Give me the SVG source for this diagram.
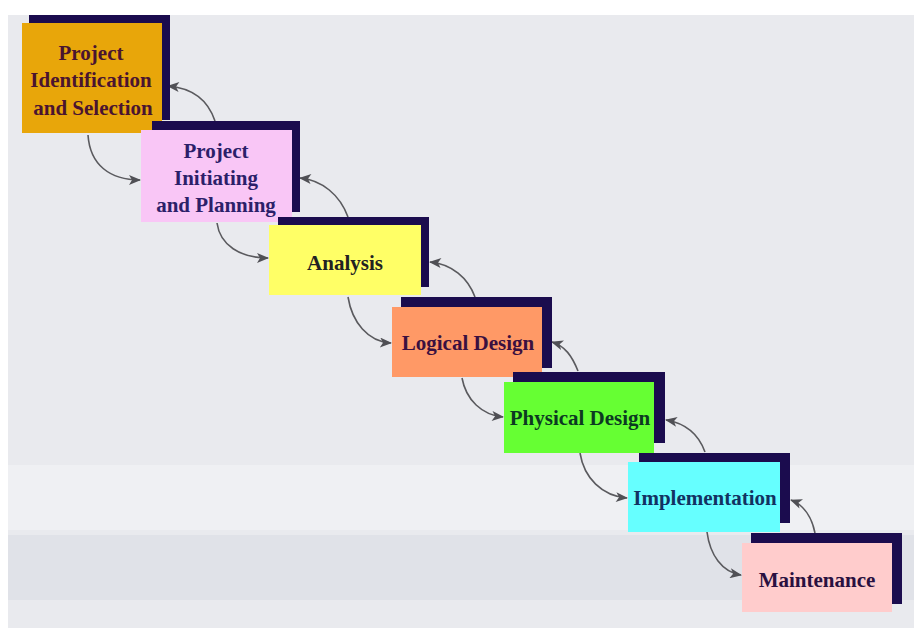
<svg xmlns="http://www.w3.org/2000/svg" width="914" height="628" viewBox="0 0 914 628">
<defs>
<style>
.sh{fill:#1b0c4e}
.lbl{font-family:"Liberation Serif","Times New Roman",serif;font-weight:bold;font-size:21px;text-anchor:middle}
.arr{fill:none;stroke:#5a5a5e;stroke-width:1.6;marker-end:url(#ah)}
</style>
<marker id="ah" viewBox="0 0 12 10" refX="11" refY="5" markerWidth="13" markerHeight="10" markerUnits="userSpaceOnUse" orient="auto">
<path d="M0,0 L12,5 L0,10 L3,5 Z" fill="#505055"/>
</marker>
</defs>
<rect x="0" y="0" width="914" height="628" fill="#ffffff"/>
<rect x="8" y="15" width="906" height="613" fill="#e9eaee"/>
<rect x="8" y="465" width="906" height="65" fill="#eff0f3"/>
<rect x="8" y="535" width="906" height="65" fill="#e0e2e8"/>

<g id="connectors">
<path class="arr" d="M88,135 C90,165 110,180 140,180"/>
<path class="arr" d="M215,121 C208,100 192,88 168,86"/>
<path class="arr" d="M217,223 C220,245 240,258 268,258"/>
<path class="arr" d="M348,217 C340,195 322,180 300,178"/>
<path class="arr" d="M348,297 C352,322 368,342 391,343"/>
<path class="arr" d="M475,297 C468,278 452,264 430,262"/>
<path class="arr" d="M462,378 C466,400 482,415 503,417"/>
<path class="arr" d="M578,371 C572,356 565,346 552,342"/>
<path class="arr" d="M580,453 C584,478 602,496 627,498"/>
<path class="arr" d="M705,452 C700,438 690,424 666,420"/>
<path class="arr" d="M707,532 C710,555 722,572 741,575"/>
<path class="arr" d="M815,533 C812,518 804,505 791,500"/>
</g>

<g id="n1">
<rect class="sh" x="29" y="15" width="141" height="105"/>
<rect x="22" y="23" width="140" height="110" fill="#e8a60a"/>
<text class="lbl" fill="#4a1430"><tspan x="91" y="60">Project</tspan><tspan x="91" y="87">Identification</tspan><tspan x="93" y="115">and Selection</tspan></text>
</g>
<g id="n2">
<rect class="sh" x="152" y="121" width="148" height="91"/>
<rect x="141" y="130" width="151" height="92" fill="#f9c6f6"/>
<text class="lbl" fill="#2c1f6a"><tspan x="216" y="158">Project</tspan><tspan x="216" y="185">Initiating</tspan><tspan x="216" y="212">and Planning</tspan></text>
</g>
<g id="n3">
<rect class="sh" x="278" y="217" width="151" height="70"/>
<rect x="269" y="225" width="152" height="70" fill="#ffff66"/>
<text class="lbl" fill="#222222" x="345" y="270">Analysis</text>
</g>
<g id="n4">
<rect class="sh" x="401" y="297" width="151" height="71"/>
<rect x="392" y="307" width="150" height="70" fill="#ff9966"/>
<text class="lbl" fill="#3a1040" x="468" y="350">Logical Design</text>
</g>
<g id="n5">
<rect class="sh" x="513" y="372" width="152" height="71"/>
<rect x="504" y="382" width="150" height="71" fill="#66ff33"/>
<text class="lbl" fill="#0c3a22" x="580" y="425">Physical Design</text>
</g>
<g id="n6">
<rect class="sh" x="639" y="453" width="151" height="70"/>
<rect x="628" y="462" width="152" height="70" fill="#66ffff"/>
<text class="lbl" fill="#123262" x="705" y="505">Implementation</text>
</g>
<g id="n7">
<rect class="sh" x="751" y="533" width="151" height="71"/>
<rect x="742" y="543" width="150" height="69" fill="#ffcccc"/>
<text class="lbl" fill="#2a1040" x="817" y="587">Maintenance</text>
</g>
</svg>
